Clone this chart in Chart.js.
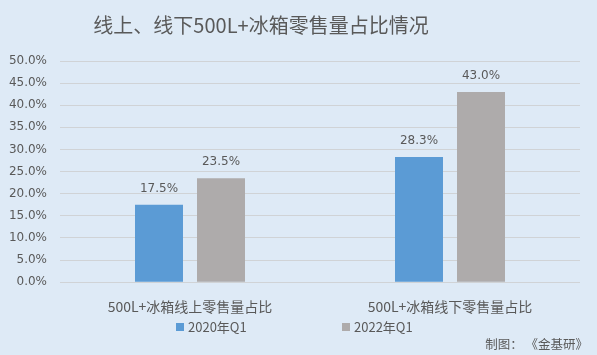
<!DOCTYPE html>
<html><head><meta charset="utf-8">
<script src="https://cdn.jsdelivr.net/npm/chart.js@4"></script>
<style>
html,body{margin:0;padding:0;background:#DEEAF6;}
#wrap{position:relative;width:597px;height:355px;}
</style></head><body>
<div id="wrap"><canvas id="c" width="597" height="355"></canvas></div>
<script>
const categories = ["500L+冰箱线上零售量占比", "500L+冰箱线下零售量占比"];
const series2020 = [17.5, 28.3];
const series2022 = [23.5, 43.0];
const seriesNames = ["2020年Q1", "2022年Q1"];
const titleText = "线上、线下500L+冰箱零售量占比情况";
const footText = "制图： 《金基研》";
const FONT = '"Noto Sans CJK SC", "Microsoft YaHei", sans-serif';
const NUMFONT = '"DejaVu Sans", Verdana, sans-serif';
const TXT = '#595959';
const COLORS = ['#5B9BD5', '#AEABAB'];

const extras = {
  id: 'extras',
  afterDatasetsDraw(chart) {
    const ctx = chart.ctx;
    ctx.save();
    // value labels
    ctx.font = '12px ' + NUMFONT;
    ctx.fillStyle = TXT;
    ctx.textAlign = 'center';
    ctx.textBaseline = 'bottom';
    chart.data.datasets.forEach((ds, i) => {
      chart.getDatasetMeta(i).data.forEach((bar, j) => {
        ctx.fillText(ds.data[j].toFixed(1) + '%', bar.x, bar.y - 10);
      });
    });
    // title
    ctx.font = '20px ' + FONT;
    ctx.textBaseline = 'middle';
    ctx.fillText(titleText, 261, 25);
    // legend
    const lx = [176, 342];
    ctx.font = '13px ' + FONT;
    ctx.textAlign = 'left';
    chart.data.datasets.forEach((ds, i) => {
      ctx.fillStyle = ds.backgroundColor;
      ctx.fillRect(lx[i], 323, 8, 8);
      ctx.fillStyle = TXT;
      ctx.fillText(ds.label, lx[i] + 12, 327);
    });
    // footer
    ctx.font = '12.5px ' + FONT;
    ctx.textAlign = 'right';
    ctx.fillStyle = TXT;
    ctx.fillText(footText, 588, 344);
    ctx.restore();
  }
};

new Chart(document.getElementById('c'), {
  type: 'bar',
  data: {
    labels: categories,
    datasets: [
      {label: seriesNames[0], data: series2020, backgroundColor: COLORS[0], categoryPercentage: 0.477, barPercentage: 0.774},
      {label: seriesNames[1], data: series2022, backgroundColor: COLORS[1], categoryPercentage: 0.477, barPercentage: 0.774}
    ]
  },
  options: {
    responsive: false,
    animation: false,
    layout: {padding: {left: 0, right: 17, top: 61, bottom: 32}},
    plugins: {
      title: {display: false},
      legend: {display: false},
      tooltip: {enabled: false}
    },
    scales: {
      x: {grid: {display: false}, border: {display: false},
        ticks: {color: TXT, font: {family: FONT, size: 14}, padding: 8}},
      y: {min: 0, max: 50, border: {display: false},
        grid: {color: '#D0D3D6', drawTicks: false},
        afterFit(s) { s.width = 60; },
        ticks: {stepSize: 5, autoSkip: false, color: TXT, padding: 13, font: {family: NUMFONT, size: 12},
          callback: v => v.toFixed(1) + '%'}}
    }
  },
  plugins: [extras]
});
</script>
</body></html>
